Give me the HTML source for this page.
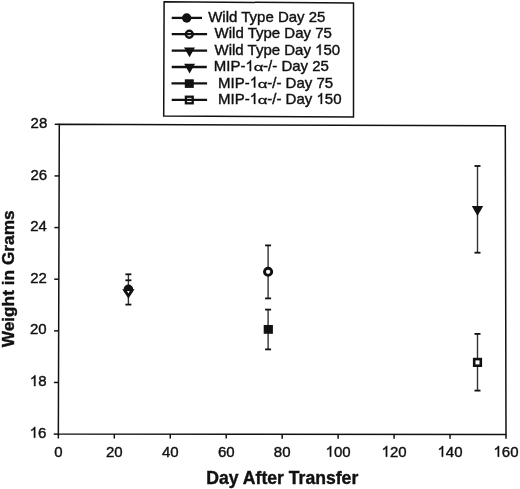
<!DOCTYPE html>
<html><head><meta charset="utf-8">
<style>
html,body{margin:0;padding:0;background:#fff;}
body{width:520px;height:489px;overflow:hidden;}
svg{display:block;will-change:transform;}
text{font-family:"Liberation Sans",sans-serif;fill:#111;stroke:#111;stroke-width:0.4px;}
.tl{font-size:15px;}
.lg{font-size:15px;}
.ax{font-size:17.6px;font-weight:bold;}
.h{fill-opacity:0;stroke-opacity:0;}
</style></head>
<body>
<svg width="520" height="489" viewBox="0 0 520 489">
<rect x="0" y="0" width="520" height="489" fill="#fff"/>
<path d="M59.3,124.3 L505.3,125.8 L506.0,434.4 L58.35,434.1 Z" fill="none" stroke="#111" stroke-width="1.5" stroke-linejoin="miter"/>
<line x1="53.75" y1="434.10" x2="58.35" y2="434.10" stroke="#111" stroke-width="1.5"/>
<text id="t0" x="46.35" y="437.70" class="tl" text-anchor="end" ><tspan class="h">1</tspan>6</text>
<line x1="53.91" y1="382.47" x2="58.51" y2="382.47" stroke="#111" stroke-width="1.5"/>
<text id="t1" x="46.51" y="386.07" class="tl" text-anchor="end" ><tspan class="h">1</tspan>8</text>
<line x1="54.07" y1="330.83" x2="58.67" y2="330.83" stroke="#111" stroke-width="1.5"/>
<text id="t2" x="46.67" y="334.43" class="tl" text-anchor="end" >20</text>
<line x1="54.23" y1="279.20" x2="58.83" y2="279.20" stroke="#111" stroke-width="1.5"/>
<text id="t3" x="46.83" y="282.80" class="tl" text-anchor="end" >22</text>
<line x1="54.38" y1="227.57" x2="58.98" y2="227.57" stroke="#111" stroke-width="1.5"/>
<text id="t4" x="46.98" y="231.17" class="tl" text-anchor="end" >24</text>
<line x1="54.54" y1="175.93" x2="59.14" y2="175.93" stroke="#111" stroke-width="1.5"/>
<text id="t5" x="47.14" y="179.53" class="tl" text-anchor="end" >26</text>
<line x1="54.70" y1="124.30" x2="59.30" y2="124.30" stroke="#111" stroke-width="1.5"/>
<text id="t6" x="47.30" y="127.90" class="tl" text-anchor="end" >28</text>
<line x1="58.35" y1="434.10" x2="58.35" y2="438.50" stroke="#111" stroke-width="1.5"/>
<text id="t7" x="58.35" y="456.7" class="tl" text-anchor="middle" >0</text>
<line x1="114.31" y1="434.14" x2="114.31" y2="438.54" stroke="#111" stroke-width="1.5"/>
<text id="t8" x="114.31" y="456.7" class="tl" text-anchor="middle" >20</text>
<line x1="170.26" y1="434.18" x2="170.26" y2="438.57" stroke="#111" stroke-width="1.5"/>
<text id="t9" x="170.26" y="456.7" class="tl" text-anchor="middle" >40</text>
<line x1="226.22" y1="434.21" x2="226.22" y2="438.61" stroke="#111" stroke-width="1.5"/>
<text id="t10" x="226.22" y="456.7" class="tl" text-anchor="middle" >60</text>
<line x1="282.18" y1="434.25" x2="282.18" y2="438.65" stroke="#111" stroke-width="1.5"/>
<text id="t11" x="282.18" y="456.7" class="tl" text-anchor="middle" >80</text>
<line x1="338.13" y1="434.29" x2="338.13" y2="438.69" stroke="#111" stroke-width="1.5"/>
<text id="t12" x="338.13" y="456.7" class="tl" text-anchor="middle" ><tspan class="h">1</tspan>00</text>
<line x1="394.09" y1="434.32" x2="394.09" y2="438.72" stroke="#111" stroke-width="1.5"/>
<text id="t13" x="394.09" y="456.7" class="tl" text-anchor="middle" ><tspan class="h">1</tspan>20</text>
<line x1="450.04" y1="434.36" x2="450.04" y2="438.76" stroke="#111" stroke-width="1.5"/>
<text id="t14" x="450.04" y="456.7" class="tl" text-anchor="middle" ><tspan class="h">1</tspan>40</text>
<line x1="506.00" y1="434.40" x2="506.00" y2="438.80" stroke="#111" stroke-width="1.5"/>
<text id="t15" x="506.00" y="456.7" class="tl" text-anchor="middle" ><tspan class="h">1</tspan>60</text>
<text x="282.3" y="483.8" class="ax" text-anchor="middle">Day After Transfer</text>
<text transform="translate(14.4,278.85) rotate(-90)" x="0" y="0" class="ax" style="font-size:17.3px" text-anchor="middle">Weight in Grams</text>
<line x1="128.4" y1="274.3" x2="128.4" y2="304.6" stroke="#333" stroke-width="1.4"/><line x1="125.4" y1="274.3" x2="131.4" y2="274.3" stroke="#111" stroke-width="1.8"/><line x1="125.4" y1="304.6" x2="131.4" y2="304.6" stroke="#111" stroke-width="1.8"/>
<line x1="125.4" y1="280.3" x2="131.4" y2="280.3" stroke="#111" stroke-width="1.8"/>
<circle cx="128.4" cy="289.4" r="4.8" fill="#111"/>
<path d="M122.25,289.2 L134.55,289.2 L128.4,298.59999999999997 Z" fill="#111"/>
<path d="M127.05000000000001,291.1 L129.75,291.1 L128.4,293.5 Z" fill="#fff"/>
<line x1="268.1" y1="245.4" x2="268.1" y2="298.4" stroke="#333" stroke-width="1.4"/><line x1="265.1" y1="245.4" x2="271.1" y2="245.4" stroke="#111" stroke-width="1.8"/><line x1="265.1" y1="298.4" x2="271.1" y2="298.4" stroke="#111" stroke-width="1.8"/>
<circle cx="268.1" cy="271.8" r="3.6" fill="#fff" stroke="#111" stroke-width="2.9"/>
<line x1="268.1" y1="309.6" x2="268.1" y2="349.4" stroke="#333" stroke-width="1.4"/><line x1="265.1" y1="309.6" x2="271.1" y2="309.6" stroke="#111" stroke-width="1.8"/><line x1="265.1" y1="349.4" x2="271.1" y2="349.4" stroke="#111" stroke-width="1.8"/>
<rect x="263.7" y="325.0" width="9.2" height="8.8" fill="#111"/>
<line x1="477.5" y1="166.0" x2="477.5" y2="252.7" stroke="#333" stroke-width="1.4"/><line x1="474.5" y1="166.0" x2="480.5" y2="166.0" stroke="#111" stroke-width="1.8"/><line x1="474.5" y1="252.7" x2="480.5" y2="252.7" stroke="#111" stroke-width="1.8"/>
<path d="M471.8,206.1 L483.2,206.1 L477.5,215.9 Z" fill="#111"/>
<line x1="477.5" y1="333.9" x2="477.5" y2="390.6" stroke="#333" stroke-width="1.4"/><line x1="474.5" y1="333.9" x2="480.5" y2="333.9" stroke="#111" stroke-width="1.8"/><line x1="474.5" y1="390.6" x2="480.5" y2="390.6" stroke="#111" stroke-width="1.8"/>
<rect x="474.2" y="359.1" width="6.6" height="6.6" fill="#fff" stroke="#111" stroke-width="2.6"/>
<path d="M164.1,1.8 L353.5,3.0 L353.5,116.9 L163.7,116.1 Z" fill="none" stroke="#111" stroke-width="1.5"/>
<line x1="171.7" y1="17.9" x2="202.0" y2="17.9" stroke="#111" stroke-width="2.3"/>
<circle cx="186.7" cy="18.0" r="4.7" fill="#111"/>
<text id="t16" x="208.2" y="21.50" class="lg" >Wild Type Day 25</text>
<line x1="171.7" y1="34.2" x2="207.1" y2="34.2" stroke="#111" stroke-width="2.3"/>
<circle cx="189.3" cy="34.2" r="3.5" fill="none" stroke="#111" stroke-width="2.4"/>
<text id="t17" x="214.6" y="38.20" class="lg" >Wild Type Day 75</text>
<line x1="171.7" y1="50.7" x2="207.1" y2="50.7" stroke="#111" stroke-width="2.3"/>
<path d="M184.0,47.5 L195.0,47.5 L189.5,57.3 Z" fill="#111"/>
<text id="t18" x="214.5" y="55.00" class="lg" >Wild Type Day <tspan class="h">1</tspan>50</text>
<line x1="171.7" y1="67.0" x2="206.8" y2="67.0" stroke="#111" stroke-width="2.3"/>
<path d="M184.1,63.8 L195.1,63.8 L189.6,73.6 Z" fill="#111"/>
<text id="t19" x="213.8" y="71.10" class="lg" >MIP-<tspan class="h">1</tspan><tspan class="h" dx="0.35">&#945;</tspan><tspan dx="0.25">-/- Day 25</tspan></text>
<line x1="171.5" y1="83.4" x2="207.1" y2="83.4" stroke="#111" stroke-width="2.3"/>
<rect x="184.8" y="79.30000000000001" width="9" height="8.6" fill="#111"/>
<text id="t20" x="218.0" y="87.50" class="lg" >MIP-<tspan class="h">1</tspan><tspan class="h" dx="0.35">&#945;</tspan><tspan dx="0.25">-/- Day 75</tspan></text>
<line x1="171.7" y1="99.8" x2="207.1" y2="99.8" stroke="#111" stroke-width="2.3"/>
<rect x="185.9" y="96.7" width="6.8" height="6.6" fill="none" stroke="#111" stroke-width="2.3"/>
<text id="t21" x="218.0" y="103.90" class="lg" >MIP-<tspan class="h">1</tspan><tspan class="h" dx="0.35">&#945;</tspan><tspan dx="0.25">-/- Day <tspan class="h">1</tspan>50</tspan></text>
<path d="M763,0 L583,0 L583,1147 Q518,1085 465,1054 Q412,1023 359,992 Q306,961 222,930 L222,1104 Q373,1175 429.5,1225.5 Q486,1276 542.5,1326.5 Q599,1377 646,1472 L763,1472 Z" transform="translate(29.66,437.70) scale(0.007324,-0.007324)" fill="#111" stroke="#111" stroke-width="0.4" vector-effect="non-scaling-stroke"/>
<path d="M763,0 L583,0 L583,1147 Q518,1085 465,1054 Q412,1023 359,992 Q306,961 222,930 L222,1104 Q373,1175 429.5,1225.5 Q486,1276 542.5,1326.5 Q599,1377 646,1472 L763,1472 Z" transform="translate(29.82,386.07) scale(0.007324,-0.007324)" fill="#111" stroke="#111" stroke-width="0.4" vector-effect="non-scaling-stroke"/>
<path d="M763,0 L583,0 L583,1147 Q518,1085 465,1054 Q412,1023 359,992 Q306,961 222,930 L222,1104 Q373,1175 429.5,1225.5 Q486,1276 542.5,1326.5 Q599,1377 646,1472 L763,1472 Z" transform="translate(325.61,456.70) scale(0.007324,-0.007324)" fill="#111" stroke="#111" stroke-width="0.4" vector-effect="non-scaling-stroke"/>
<path d="M763,0 L583,0 L583,1147 Q518,1085 465,1054 Q412,1023 359,992 Q306,961 222,930 L222,1104 Q373,1175 429.5,1225.5 Q486,1276 542.5,1326.5 Q599,1377 646,1472 L763,1472 Z" transform="translate(381.57,456.70) scale(0.007324,-0.007324)" fill="#111" stroke="#111" stroke-width="0.4" vector-effect="non-scaling-stroke"/>
<path d="M763,0 L583,0 L583,1147 Q518,1085 465,1054 Q412,1023 359,992 Q306,961 222,930 L222,1104 Q373,1175 429.5,1225.5 Q486,1276 542.5,1326.5 Q599,1377 646,1472 L763,1472 Z" transform="translate(437.52,456.70) scale(0.007324,-0.007324)" fill="#111" stroke="#111" stroke-width="0.4" vector-effect="non-scaling-stroke"/>
<path d="M763,0 L583,0 L583,1147 Q518,1085 465,1054 Q412,1023 359,992 Q306,961 222,930 L222,1104 Q373,1175 429.5,1225.5 Q486,1276 542.5,1326.5 Q599,1377 646,1472 L763,1472 Z" transform="translate(493.48,456.70) scale(0.007324,-0.007324)" fill="#111" stroke="#111" stroke-width="0.4" vector-effect="non-scaling-stroke"/>
<path d="M763,0 L583,0 L583,1147 Q518,1085 465,1054 Q412,1023 359,992 Q306,961 222,930 L222,1104 Q373,1175 429.5,1225.5 Q486,1276 542.5,1326.5 Q599,1377 646,1472 L763,1472 Z" transform="translate(315.09,55.00) scale(0.007324,-0.007324)" fill="#111" stroke="#111" stroke-width="0.4" vector-effect="non-scaling-stroke"/>
<path d="M763,0 L583,0 L583,1147 Q518,1085 465,1054 Q412,1023 359,992 Q306,961 222,930 L222,1104 Q373,1175 429.5,1225.5 Q486,1276 542.5,1326.5 Q599,1377 646,1472 L763,1472 Z" transform="translate(245.47,71.10) scale(0.007324,-0.007324)" fill="#111" stroke="#111" stroke-width="0.4" vector-effect="non-scaling-stroke"/>
<text x="0" y="0" class="lg" text-anchor="middle" transform="translate(258.50,71.10) scale(1.12,0.78)">&#945;</text>
<path d="M763,0 L583,0 L583,1147 Q518,1085 465,1054 Q412,1023 359,992 Q306,961 222,930 L222,1104 Q373,1175 429.5,1225.5 Q486,1276 542.5,1326.5 Q599,1377 646,1472 L763,1472 Z" transform="translate(249.67,87.50) scale(0.007324,-0.007324)" fill="#111" stroke="#111" stroke-width="0.4" vector-effect="non-scaling-stroke"/>
<text x="0" y="0" class="lg" text-anchor="middle" transform="translate(262.70,87.50) scale(1.12,0.78)">&#945;</text>
<path d="M763,0 L583,0 L583,1147 Q518,1085 465,1054 Q412,1023 359,992 Q306,961 222,930 L222,1104 Q373,1175 429.5,1225.5 Q486,1276 542.5,1326.5 Q599,1377 646,1472 L763,1472 Z" transform="translate(249.67,103.90) scale(0.007324,-0.007324)" fill="#111" stroke="#111" stroke-width="0.4" vector-effect="non-scaling-stroke"/>
<text x="0" y="0" class="lg" text-anchor="middle" transform="translate(262.70,103.90) scale(1.12,0.78)">&#945;</text>
<path d="M763,0 L583,0 L583,1147 Q518,1085 465,1054 Q412,1023 359,992 Q306,961 222,930 L222,1104 Q373,1175 429.5,1225.5 Q486,1276 542.5,1326.5 Q599,1377 646,1472 L763,1472 Z" transform="translate(316.46,103.90) scale(0.007324,-0.007324)" fill="#111" stroke="#111" stroke-width="0.4" vector-effect="non-scaling-stroke"/>
</svg>
</body></html>
